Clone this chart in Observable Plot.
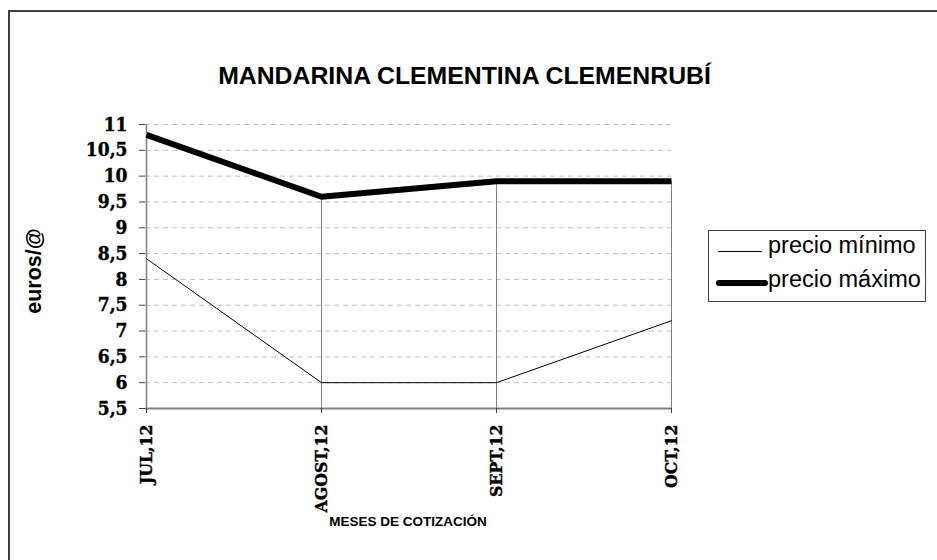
<!DOCTYPE html>
<html>
<head>
<meta charset="utf-8">
<script src="https://cdn.jsdelivr.net/npm/d3@7"></script>
<script src="https://cdn.jsdelivr.net/npm/@observablehq/plot@0.6"></script>
<style>
  html, body { margin: 0; padding: 0; background: #fff; }
  #wrap { position: relative; width: 937px; height: 560px; overflow: hidden; }
  #frame { position: absolute; left: 8px; top: 10px; width: 1000px; height: 600px;
           border-top: 2px solid #404040; border-left: 2px solid #404040; }
  #chart { position: absolute; left: 0; top: 0; }
  .t { position: absolute; font-family: "Liberation Sans", Arial, sans-serif; color: #000; white-space: nowrap; }
  #title { left: -4px; width: 937px; text-align: center; top: 62px; font-size: 24.8px; font-weight: bold; }
  #ylab { left: 34px; top: 271px; font-size: 21.5px; font-weight: bold; transform: translate(-50%, -50%) rotate(-90deg); }
  #xlab { left: 408px; top: 514px; font-size: 13.5px; font-weight: bold; transform: translateX(-50%); }
  #legend { position: absolute; left: 708px; top: 230px; width: 218px; height: 72px; border: 1px solid #404040; box-sizing: border-box; }
  .li { position: absolute; left: 0; font-family: "Liberation Sans", Arial, sans-serif; font-size: 23.5px; }
  .li span.sw { position: absolute; background: #000; }
  .li span.tx { position: absolute; left: 59px; white-space: nowrap; }
  #chart svg g[aria-label="y-axis tick label"] text { font-family: "DejaVu Serif Condensed", "DejaVu Serif", serif; font-stretch: condensed; font-weight: 900; font-size: 19px; fill: #000; stroke: #000; stroke-width: 0.4px; }
  #chart svg g[aria-label="x-axis tick label"] text { font-family: "DejaVu Serif Condensed", "DejaVu Serif", serif; font-stretch: condensed; font-weight: 900; font-size: 17.5px; fill: #000; stroke: #000; stroke-width: 0.4px; }
</style>
</head>
<body>
<div id="wrap">
  <div id="frame"></div>
  <div id="chart"></div>
  <div class="t" id="title">MANDARINA CLEMENTINA CLEMENRUBÍ</div>
  <div class="t" id="ylab">euros/@</div>
  <div class="t" id="xlab">MESES DE COTIZACIÓN</div>
  <div id="legend">
    <div class="li" style="top:1px;width:100%;height:32px;">
      <span class="sw" style="left:9px;top:19px;width:44px;height:1px;"></span>
      <span class="tx" style="top:0px;">precio mínimo</span>
    </div>
    <div class="li" style="top:35px;width:100%;height:32px;">
      <span class="sw" style="left:7px;top:14px;width:52px;height:6px;border-radius:3px;"></span>
      <span class="tx" style="top:0px;">precio máximo</span>
    </div>
  </div>
</div>
<script>
const months = ["JUL,12", "AGOST,12", "SEPT,12", "OCT,12"];
const precioMinimo = [8.4, 6.0, 6.0, 7.2];
const precioMaximo = [10.8, 9.6, 9.9, 9.9];
const yTicks = [5.5, 6, 6.5, 7, 7.5, 8, 8.5, 9, 9.5, 10, 10.5, 11];
const gridLines = [6, 6.5, 7, 7.5, 8, 8.5, 9, 9.5, 10, 10.5, 11];

const minData = months.map((m, i) => ({month: m, value: precioMinimo[i]}));
const maxData = months.map((m, i) => ({month: m, value: precioMaximo[i]}));

const chart = Plot.plot({
  width: 937,
  height: 560,
  marginLeft: 145,
  marginRight: 266,
  marginTop: 124,
  marginBottom: 152,
  x: {type: "point", domain: months, padding: 0},
  y: {domain: [5.5, 11]},
  marks: [
    Plot.ruleY(gridLines, {stroke: "#c0c0c0", strokeDasharray: "5,4", strokeWidth: 1}),
    Plot.ruleX(maxData, {x: "month", y1: 5.5, y2: "value", stroke: "#808080", strokeWidth: 1}),
    Plot.ruleX([months[0]], {y1: 5.5, y2: 11, stroke: "#808080", strokeWidth: 1.5}),
    Plot.ruleY([5.5], {stroke: "#808080", strokeWidth: 2}),
    Plot.axisY({
      ticks: yTicks,
      tickFormat: d => String(d).replace(".", ","),
      tickSize: 6,
      tickPadding: 12,
      stroke: "#404040",
      label: null
    }),
    Plot.axisX({
      tickRotate: -90,
      tickSize: 5,
      tickPadding: 11,
      stroke: "#404040",
      label: null
    }),
    Plot.line(minData, {x: "month", y: "value", stroke: "#000", strokeWidth: 1}),
    Plot.line(maxData, {x: "month", y: "value", stroke: "#000", strokeWidth: 6, strokeLinejoin: "miter", strokeLinecap: "butt"})
  ]
});
chart.style.background = "transparent";
document.getElementById("chart").appendChild(chart);
</script>
</body>
</html>
